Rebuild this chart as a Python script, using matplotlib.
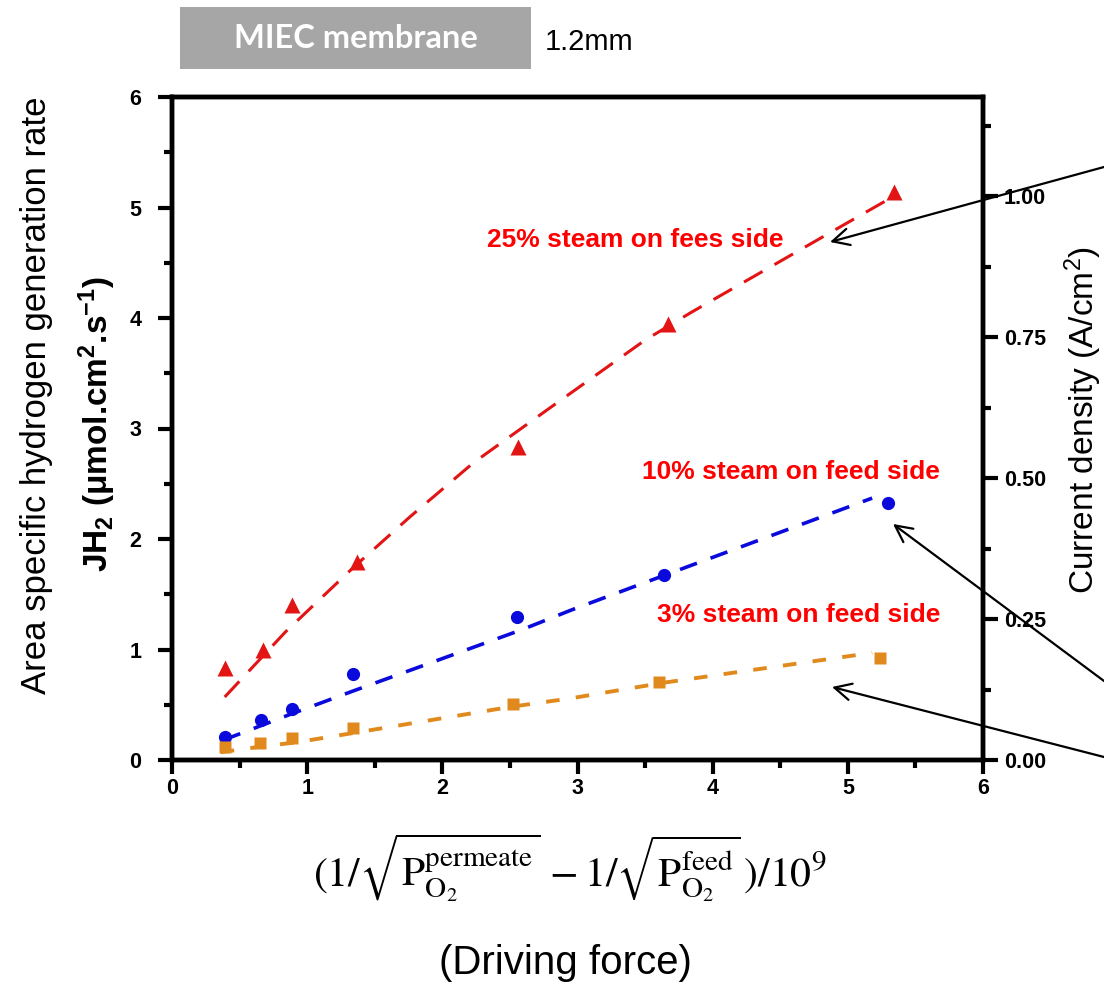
import matplotlib
matplotlib.use("Agg")
import matplotlib.pyplot as plt
from matplotlib.patches import Rectangle

plt.rcParams['font.family'] = ['Liberation Sans', 'DejaVu Sans']
plt.rcParams['mathtext.fontset'] = 'custom'
plt.rcParams['mathtext.rm'] = 'Liberation Sans'
plt.rcParams['mathtext.it'] = 'Liberation Sans:italic'
plt.rcParams['mathtext.bf'] = 'Liberation Sans:bold'

# ---- data ----
x25 = [0.39, 0.67, 0.89, 1.37, 2.56, 3.67, 5.34]
y25 = [0.83, 1.00, 1.40, 1.79, 2.83, 3.95, 5.14]
x10 = [0.39, 0.66, 0.89, 1.34, 2.55, 3.64, 5.30]
y10 = [0.21, 0.36, 0.46, 0.78, 1.29, 1.67, 2.33]
x3 = [0.39, 0.65, 0.89, 1.34, 2.52, 3.60, 5.24]
y3 = [0.12, 0.15, 0.20, 0.29, 0.51, 0.71, 0.92]

fit25_x = [0.39, 0.84, 1.34, 1.76, 2.23, 2.80, 3.50, 3.84, 4.78, 5.28]
fit25_y = [0.57, 1.16, 1.74, 2.20, 2.69, 3.19, 3.80, 4.05, 4.71, 5.06]
fit10_x = [0.38, 0.89, 1.33, 2.59, 2.96, 3.64, 5.18]
fit10_y = [0.18, 0.42, 0.62, 1.18, 1.36, 1.67, 2.37]
fit3_x = [0.36, 0.65, 0.92, 1.37, 2.50, 2.96, 3.64, 5.18]
fit3_y = [0.07, 0.12, 0.16, 0.25, 0.48, 0.56, 0.70, 0.97]

xticks = [0, 1, 2, 3, 4, 5, 6]
yticks = [0, 1, 2, 3, 4, 5, 6]
rticks = [0.00, 0.25, 0.50, 0.75, 1.00]
rtick_labels = ['0.00', '0.25', '0.50', '0.75', '1.00']

W, H = 1104, 999
fig = plt.figure(figsize=(W / 100, H / 100), dpi=100)
ax = fig.add_axes([172 / W, 1 - 760 / H, (983 - 172) / W, (760 - 97) / H])

red, blue, orange = '#e31414', '#0a0adc', '#e08a1e'
ax.plot(fit25_x, fit25_y, color=red, lw=2.2, dashes=(7, 4.5))
ax.plot(fit10_x, fit10_y, color=blue, lw=2.6, dashes=(5, 4))
ax.plot(fit3_x, fit3_y, color=orange, lw=2.8, dashes=(3.5, 4.2))
ax.plot(x25, y25, '^', color=red, ms=12, mec='none')
ax.plot(x10, y10, 'o', color=blue, ms=9.5, mec='none')
ax.plot(x3, y3, 's', color=orange, ms=8.5, mec='none')

ax.set_xlim(0, 6)
ax.set_ylim(0, 6)
ax.set_xticks(xticks)
ax.set_yticks(yticks)
ax.set_xticks([0.5, 1.5, 2.5, 3.5, 4.5, 5.5], minor=True)
ax.set_yticks([0.5, 1.5, 2.5, 3.5, 4.5, 5.5], minor=True)
for lab in ax.get_xticklabels() + ax.get_yticklabels():
    lab.set_fontweight('bold')
    lab.set_fontsize(15.5)
ax.tick_params(which='major', direction='out', length=10, width=3, top=False, right=False)
ax.tick_params(which='minor', direction='out', length=6, width=3, top=False, right=False)
ax.tick_params(axis='x', which='major', pad=3)
ax.tick_params(axis='y', which='major', pad=12)
for s in ax.spines.values():
    s.set_linewidth(3.2)

ax2 = ax.twinx()
ax2.set_ylim(0, 1.176)
ax2.set_yticks(rticks)
ax2.set_yticklabels(rtick_labels, fontweight='bold', fontsize=15.5)
ax2.set_yticks([0.125, 0.375, 0.625, 0.875, 1.125], minor=True)
ax2.tick_params(which='major', direction='out', length=11, width=3, pad=4)
ax2.tick_params(which='minor', direction='out', length=6, width=3)
for s in ax2.spines.values():
    s.set_linewidth(3.2)

# annotations
fig.text(635 / W, 1 - 240 / H, '25% steam on fees side', color='red',
         fontsize=19, fontweight='bold', va='center', ha='center')
fig.text(940 / W, 1 - 472 / H, '10% steam on feed side', color='red',
         fontsize=19, fontweight='bold', va='center', ha='right')
fig.text(940 / W, 1 - 615 / H, '3% steam on feed side', color='red',
         fontsize=19, fontweight='bold', va='center', ha='right')

arrows = [((830, 242), (1104, 167)), ((893, 524), (1104, 681)), ((832, 687), (1104, 757))]
for tip, tail in arrows:
    fig.add_artist(plt.Annotation('', xy=(tip[0], H - tip[1]), xycoords='figure pixels',
                                  xytext=(tail[0], H - tail[1]), textcoords='figure pixels',
                                  arrowprops=dict(arrowstyle='->', lw=1.6, color='black',
                                                  mutation_scale=30, shrinkA=0, shrinkB=0)))

# top box
fig.add_artist(Rectangle((180 / W, 1 - 69 / H), (531 - 180) / W, 62 / H,
                         transform=fig.transFigure, color='#a6a6a6', lw=0))
fig.text(356 / W, 1 - 39 / H, 'MIEC membrane', color='white', fontsize=23.5,
         fontweight='bold', family=['Lato', 'DejaVu Sans'], ha='center', va='center')
fig.text(545 / W, 1 - 42 / H, '1.2mm', color='black', fontsize=21, ha='left', va='center')

# axis labels
fig.text(37 / W, 1 - 395 / H, 'Area specific hydrogen generation rate', rotation=90,
         fontsize=25, ha='center', va='center')
fig.text(97 / W, 1 - 424 / H, r'JH$_\mathbf{2}$ ($\mathbf{\mu}$mol.cm$^\mathbf{2}$.s$^\mathbf{-1}$)',
         rotation=90, fontsize=24, fontweight='bold', ha='center', va='center')
fig.text(1083 / W, 1 - 420 / H, r'Current density (A/cm$^2$)', rotation=90,
         fontsize=24, ha='center', va='center')
fig.text(570 / W, 1 - 868 / H,
         r'$(1/\sqrt{\mathrm{P}_{\mathrm{O}_2}^{\mathrm{permeate}}}\,-1/\sqrt{\mathrm{P}_{\mathrm{O}_2}^{\mathrm{feed}}}\,)/10^9$',
         math_fontfamily='stix', fontsize=30, ha='center', va='center')
fig.text(565 / W, 1 - 963 / H, '(Driving force)', fontsize=29, ha='center', va='center')

fig.savefig('out.png', dpi=100)
